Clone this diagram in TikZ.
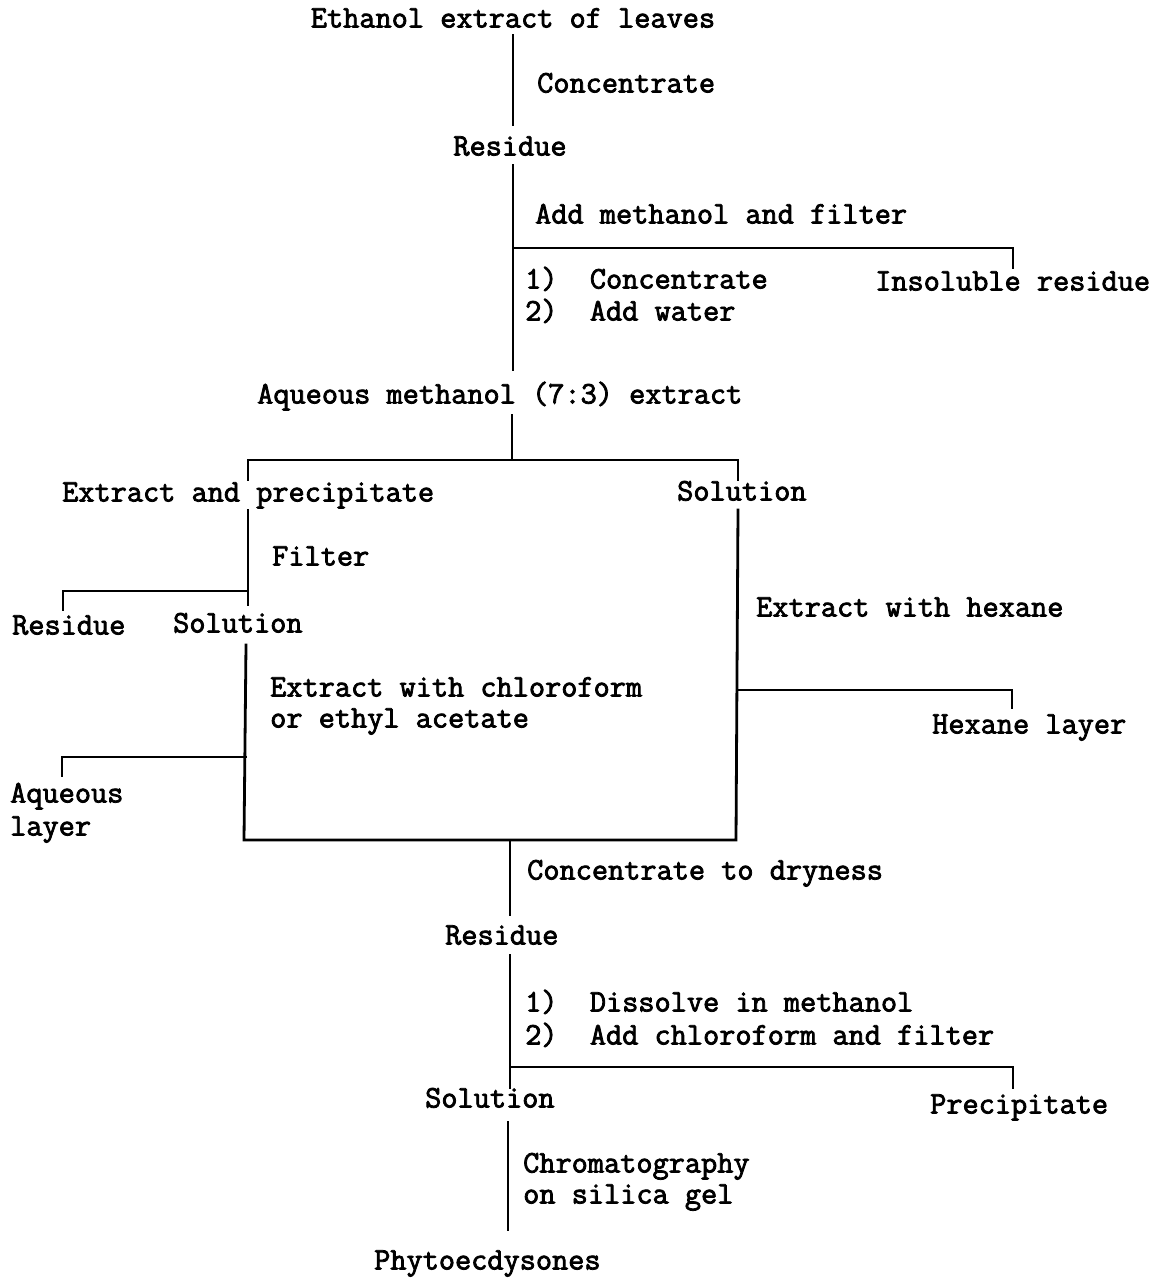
\documentclass[tikz,border=0pt]{standalone}
\usepackage{fontspec}
\newfontfamily\tw{Latin Modern Mono}[FakeBold=2.5]
\begin{document}
\begin{tikzpicture}[x=1pt,y=-1pt,
  txt/.style={font=\tw\fontsize{31.4}{34}\selectfont, inner sep=0pt, text height=21pt, text depth=6pt, anchor=west},
  ln/.style={line width=2.8pt, line cap=rect}]
\useasboundingbox (0,0) rectangle (1162,1279);
% texts
\node[txt, anchor=center] (eth) at (513,20) {Ethanol extract of leaves};
\node[txt] (conc1) at (537,85) {Concentrate};
\node[txt, anchor=center] (res1) at (510,148) {Residue};
\node[txt] (addm) at (535,216) {Add methanol and filter};
\node[txt] (st1) at (525,281) {1)~~Concentrate};
\node[txt] (st2) at (525,313) {2)~~Add water};
\node[txt] (insol) at (875,283) {Insoluble residue};
\node[txt] (aqm) at (257,396) {Aqueous methanol (7:3) extract};
\node[txt] (exprec) at (62,494) {Extract and precipitate};
\node[txt] (solR) at (677,493) {Solution};
\node[txt] (filt) at (272,558) {Filter};
\node[txt] (res2) at (12,627) {Residue};
\node[txt] (solL) at (173,625) {Solution};
\node[txt] (exhex) at (756,609) {Extract with hexane};
\node[txt] (exchl) at (270,689) {Extract with chloroform};
\node[txt] (exchl2) at (270,720) {or ethyl acetate};
\node[txt] (hexl) at (932,726) {Hexane layer};
\node[txt] (aq1) at (10,795) {Aqueous};
\node[txt] (aq2) at (10,828) {layer};
\node[txt] (cdry) at (527,872) {Concentrate to dryness};
\node[txt] (res3) at (445,937) {Residue};
\node[txt] (dis1) at (525,1004) {1)~~Dissolve in methanol};
\node[txt] (dis2) at (525,1037) {2)~~Add chloroform and filter};
\node[txt] (sol3) at (425,1100) {Solution};
\node[txt] (prec) at (930,1106) {Precipitate};
\node[txt] (chrom1) at (523,1165) {Chromatography};
\node[txt] (chrom2) at (523,1196) {on silica gel};
\node[txt] (phyto) at (374,1262) {Phytoecdysones};
% junction coordinates
\coordinate (a1) at (513,35);
\coordinate (a2) at (513,125);
\coordinate (b1) at (513,165);
\coordinate (bj) at (513,248);
\coordinate (b2) at (513,370);
\coordinate (bi) at (1013,268);
\coordinate (c1) at (512,415);
\coordinate (c2) at (512,460);
\coordinate (tl) at (248,460);
\coordinate (tr) at (738,460);
\coordinate (tl2) at (248,480);
\coordinate (tr2) at (738,480);
\coordinate (l1) at (248,510);
\coordinate (lj1) at (248,591);
\coordinate (l1e) at (248,605);
\coordinate (lr) at (63,610);
\coordinate (l2) at (246,645);
\coordinate (lj2) at (246,757);
\coordinate (la) at (62,776);
\coordinate (bl) at (244,840);
\coordinate (br) at (736,840);
\coordinate (r1) at (738,510);
\coordinate (rj) at (738,690);
\coordinate (rh) at (1012,708);
\coordinate (d1) at (510,840);
\coordinate (d2) at (510,915);
\coordinate (e1) at (510,955);
\coordinate (ej) at (510,1067);
\coordinate (e2) at (510,1088);
\coordinate (ep) at (1013,1088);
\coordinate (f1) at (508,1122);
\coordinate (f2) at (508,1230);
% connectors
\draw[ln] (a1) -- (a2);
\draw[ln] (b1) -- (b2);
\draw[ln] (bj) -| (bi);
\draw[ln] (c1) -- (c2);
\draw[ln] (tl2) -- (tl) -- (tr) -- (tr2);
\draw[ln] (l1) -- (l1e);
\draw[ln] (lj1) -| (lr);
\draw[ln] (l2) -- (bl) -- (br) -- (r1);
\draw[ln] (lj2) -| (la);
\draw[ln] (rj) -| (rh);
\draw[ln] (d1) -- (d2);
\draw[ln] (e1) -- (e2);
\draw[ln] (ej) -| (ep);
\draw[ln] (f1) -- (f2);
\end{tikzpicture}
\end{document}
